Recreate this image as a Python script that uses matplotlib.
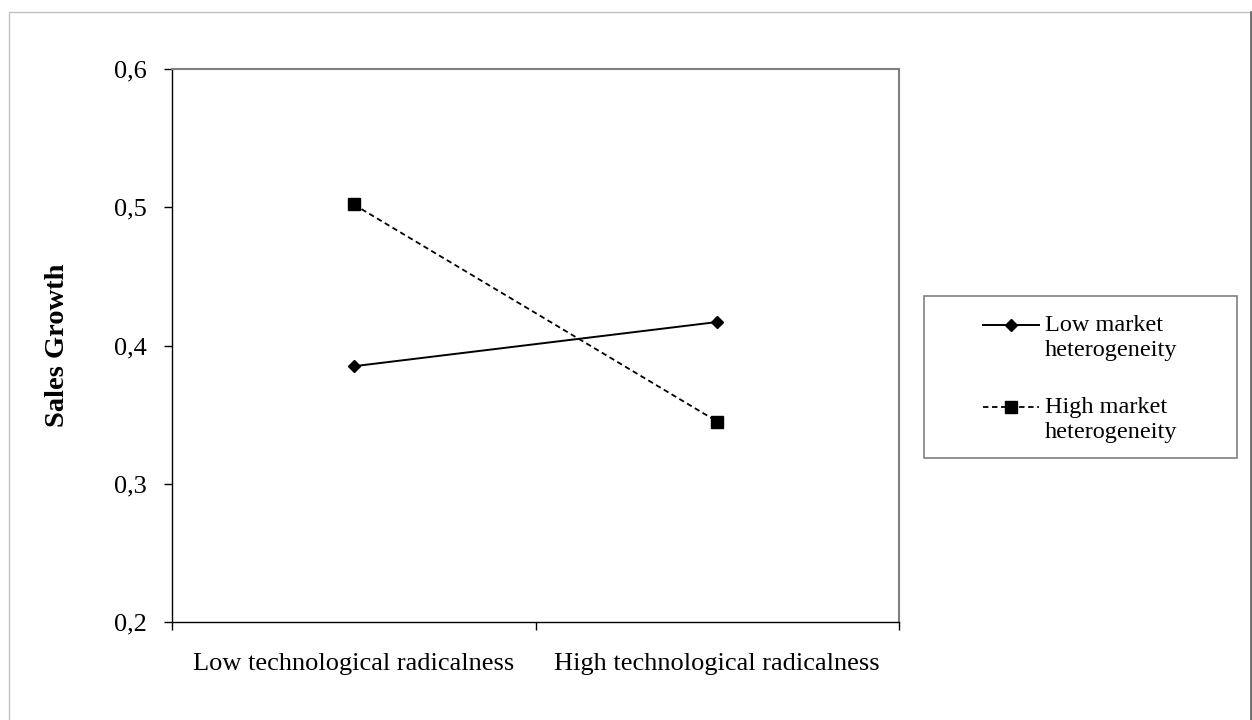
import matplotlib
matplotlib.use("Agg")
import matplotlib.pyplot as plt
from matplotlib.patches import Rectangle
from matplotlib.lines import Line2D

plt.rcParams['font.family'] = ['Liberation Serif', 'DejaVu Serif']

categories = ["Low technological radicalness", "High technological radicalness"]
low_het = [0.385, 0.417]
high_het = [0.502, 0.345]
series_labels = ["Low market\nheterogeneity", "High market\nheterogeneity"]
y_ticks = [0.2, 0.3, 0.4, 0.5, 0.6]
y_tick_labels = ["0,2", "0,3", "0,4", "0,5", "0,6"]

W, H = 1252, 720
fig = plt.figure(figsize=(W / 100, H / 100), dpi=100)
ax = fig.add_axes([172 / W, 98 / H, 727 / W, 553 / H])

x = [0.5, 1.5]
ax.plot(x, low_het, color='black', lw=1.4, marker='D', ms=6.5, label=series_labels[0])
ax.plot(x, high_het, color='black', lw=1.3, ls=(0, (3, 2)), marker='s', ms=9,
        label=series_labels[1])

ax.set_xlim(0, 2)
ax.set_ylim(0.2, 0.6)
ax.set_xticks([0, 1, 2])
ax.set_xticklabels([])
ax.set_xticks(x, minor=True)
ax.set_xticklabels(categories, minor=True, fontsize=19)
ax.tick_params(axis='x', which='minor', length=0, pad=22)
ax.tick_params(axis='x', which='major', length=6, width=1, direction='out')
ax.set_yticks(y_ticks)
ax.set_yticklabels(y_tick_labels, fontsize=19)
ax.tick_params(axis='y', length=6, width=1, pad=12)

for s in ['left', 'bottom']:
    ax.spines[s].set_color('black')
    ax.spines[s].set_linewidth(1.0)
for s in ['top', 'right']:
    ax.spines[s].set_color('#808080')
    ax.spines[s].set_linewidth(1.5)

ax.set_ylabel('Sales Growth', fontweight='bold', fontsize=20.5)
ax.yaxis.set_label_coords(-0.140, 0.5)

# chart area border
fig.add_artist(Rectangle((8.5 / W, -0.05), (1250.5 - 8.5) / W, 1 - 11.5 / H + 0.05,
                         transform=fig.transFigure, fill=False,
                         edgecolor='#c0c0c0', lw=1.0))
fig.add_artist(Line2D([1250.5 / W, 1250.5 / W], [0, 1 - 11.5 / H],
                      transform=fig.transFigure, color='#606060', lw=1.2))

# legend box
fig.add_artist(Rectangle((924 / W, 1 - 458 / H), 313 / W, 162 / H,
                         transform=fig.transFigure, fill=False,
                         edgecolor='#808080', lw=1.2))
leg = ax.legend(loc='center', bbox_to_anchor=(1080 / W, 1 - 379 / H),
                bbox_transform=fig.transFigure, frameon=False, fontsize=17.5,
                handlelength=2.3, handletextpad=0.25, labelspacing=1.5)
for t in leg.get_texts():
    t.set_linespacing(1.25)
# put the handle next to the first line of each label, like the original
for h in leg.legend_handles:
    h.set_ydata(h.get_ydata() + 9)

fig.savefig("out.png", dpi=100)
